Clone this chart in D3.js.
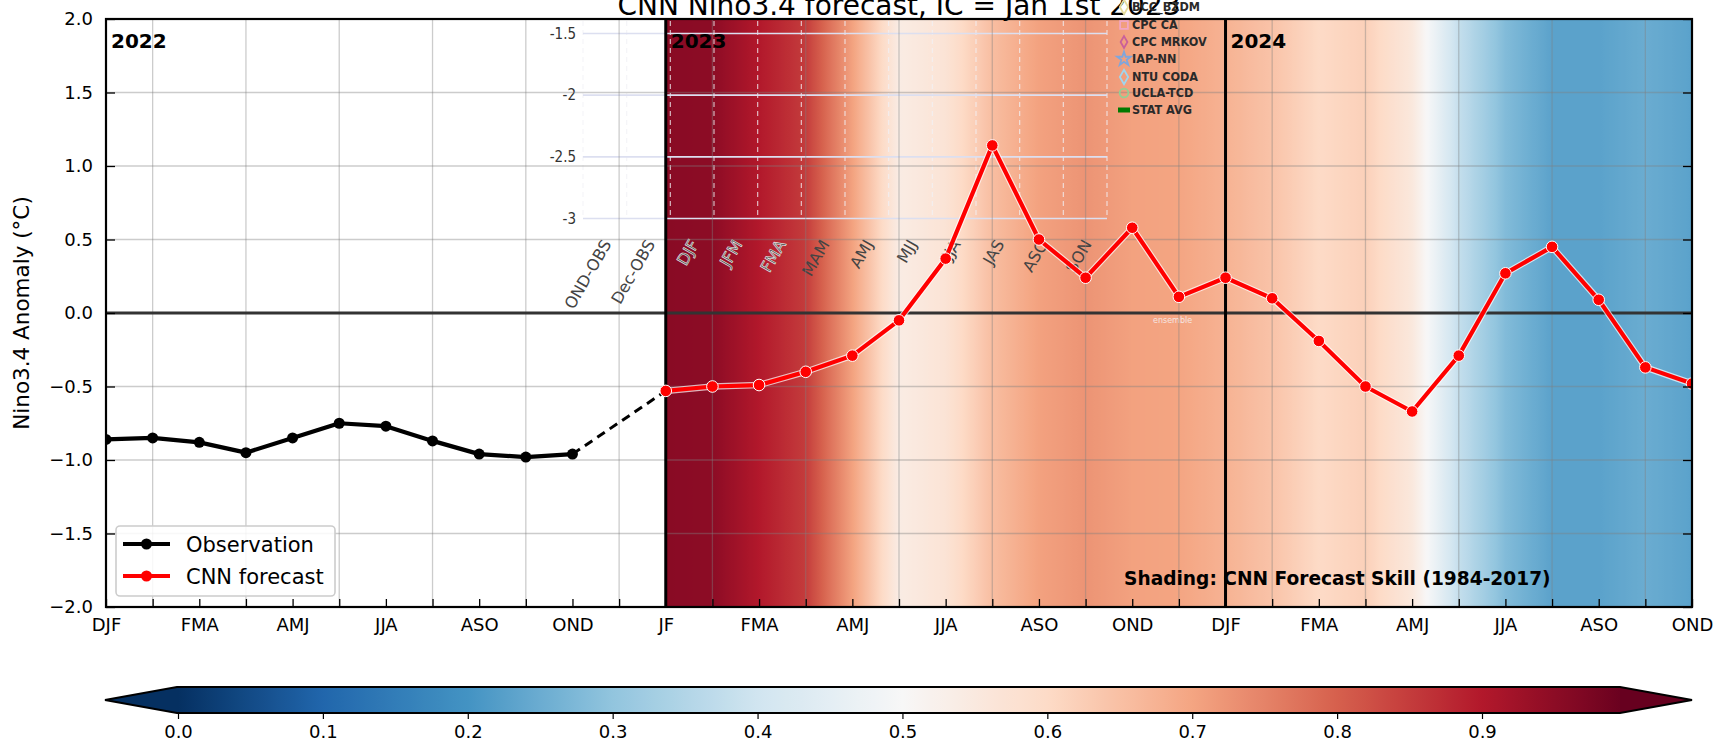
<!DOCTYPE html>
<html><head><meta charset="utf-8">
<script src="https://cdn.jsdelivr.net/npm/d3@7"></script>
<style>
html,body{margin:0;padding:0;background:#fff;}
svg{display:block;}
</style></head>
<body>
<svg id="chart" width="1713" height="750"></svg>
<script>
// ---------------- data ----------------
const title = "CNN Nino3.4 forecast, IC = Jan 1st 2023";
const xTickLabels = ["DJF","FMA","AMJ","JJA","ASO","OND","JF","FMA","AMJ","JJA","ASO","OND","DJF","FMA","AMJ","JJA","ASO","OND"];
const obsMonths = [0,1,2,3,4,5,6,7,8,9,10];
const obsValues = [-0.86,-0.85,-0.88,-0.95,-0.85,-0.75,-0.77,-0.87,-0.96,-0.98,-0.96];
const fcstMonths = [12,13,14,15,16,17,18,19,20,21,22,23,24,25,26,27,28,29,30,31,32,33,34];
const fcstValues = [-0.53,-0.50,-0.49,-0.40,-0.29,-0.05,0.37,1.14,0.50,0.24,0.58,0.11,0.24,0.10,-0.19,-0.50,-0.67,-0.29,0.27,0.45,0.09,-0.37,-0.48];
const skillValues = [0.955,0.95,0.90,0.85,0.705,0.54,0.57,0.655,0.705,0.725,0.705,0.70,0.675,0.645,0.60,0.62,0.555,0.38,0.28,0.23,0.23,0.25,0.23];
const yearLabels = ["2022","2023","2024"];
const yearMonths = [0,12,24];
const yTicks = [-2,-1.5,-1,-0.5,0,0.5,1,1.5,2];
const cbTicks = [0,0.1,0.2,0.3,0.4,0.5,0.6,0.7,0.8,0.9];
const rdbu = ["#67001f","#b2182b","#d6604d","#f4a582","#fddbc7","#f7f7f7","#d1e5f0","#92c5de","#4393c3","#2166ac","#053061"];
const insetXLabels = ["OND-OBS","Dec-OBS","DJF","JFM","FMA","MAM","AMJ","MJJ","JJA","JAS","ASO","SON"];
const insetYTicks = [-1.5,-2,-2.5,-3];
const insetModels = ["BCC_BZDM","CPC CA","CPC MRKOV","IAP-NN","NTU CODA","UCLA-TCD","STAT AVG"];
const insetColors = ["#e6dc9c","#f2a6c4","#c9609a","#7fa6dc","#9fd6ef","#94cf94","#007a00"];

// ---------------- layout ----------------
const svg = d3.select("#chart");
const W = 1713, H = 750;
const L = 106, R = 1692, T = 19, B = 607;
const FONT = "DejaVu Sans, sans-serif";
const NARROW = "'Liberation Sans Narrow', 'DejaVu Sans Condensed', 'Liberation Sans', sans-serif";

const x = d3.scaleLinear().domain([0,34]).range([L,R]);
const y = d3.scaleLinear().domain([-2,2]).range([B,T]);
const cmap = d3.scaleLinear().domain(d3.range(11).map(i => i/10)).range(rdbu.slice().reverse()).interpolate(d3.interpolateRgb).clamp(true);
const skillAt = d3.scaleLinear().domain(fcstMonths).range(skillValues);

svg.append("rect").attr("width",W).attr("height",H).attr("fill","#fff");

const defs = svg.append("defs");
defs.append("clipPath").attr("id","plotclip").append("rect")
  .attr("x",L).attr("y",T).attr("width",R-L).attr("height",B-T);

// shading gradient
const g0 = fcstMonths[0], g1 = fcstMonths[fcstMonths.length-1];
const shadeGrad = defs.append("linearGradient").attr("id","shade")
  .attr("gradientUnits","userSpaceOnUse")
  .attr("x1",x(g0)).attr("x2",x(g1)).attr("y1",0).attr("y2",0);
shadeGrad.selectAll("stop").data(d3.range(g0, g1 + 0.001, 0.05)).join("stop")
  .attr("offset", t => (t - g0)/(g1 - g0))
  .attr("stop-color", t => cmap(skillAt(Math.min(t, g1))));

const plot = svg.append("g").attr("clip-path","url(#plotclip)");
plot.append("rect").attr("x",x(g0)).attr("y",T).attr("width",x(g1)-x(g0)).attr("height",B-T)
  .attr("fill","url(#shade)");

// ---------------- pasted inset remnants ----------------
const ix = d3.scaleLinear().domain([0,12]).range([583,1107]);
const iy = d3.scaleLinear().domain([-1.5,-3]).range([33.5,218.5]);
const inset = svg.append("g");
inset.selectAll("line.idash").data(d3.range(0,13)).join("line")
  .attr("x1",d=>ix(d)).attr("x2",d=>ix(d)).attr("y1",T+2).attr("y2",iy(-3))
  .attr("stroke","#f2f2f6").attr("stroke-opacity",0.75).attr("stroke-width",1.2).attr("stroke-dasharray","5,4");
inset.selectAll("line.ih").data(insetYTicks).join("line")
  .attr("x1",ix(0)).attr("x2",ix(12)).attr("y1",d=>iy(d)).attr("y2",d=>iy(d))
  .attr("stroke","#dcdff0").attr("stroke-width",1.6);
inset.selectAll("text.iyl").data(insetYTicks).join("text")
  .attr("x",576).attr("y",d=>iy(d)).attr("dy","0.35em").attr("text-anchor","end")
  .attr("font-family",NARROW).attr("font-size",15).attr("fill","#333")
  .text(d => String(d));
inset.selectAll("text.ixl").data(insetXLabels).join("text")
  .attr("transform",(d,i)=>`translate(${ix(i+0.5)+7},${244}) rotate(-60)`)
  .attr("text-anchor","end")
  .attr("font-family",FONT).attr("font-size",16).attr("fill","#444")
  .attr("stroke",(d,i)=> i>=2 && i<=4 ? "#eee" : "none").attr("stroke-width",0.6)
  .text(d=>d);
inset.append("text").attr("x",1153).attr("y",323).attr("font-family",FONT).attr("font-size",8)
  .attr("fill","#f6e6e2").text("ensemble");

// ---------------- grid ----------------
const grid = svg.append("g");
grid.selectAll("line.v").data(d3.range(1,34,2)).join("line")
  .attr("x1",d=>x(d)).attr("x2",d=>x(d)).attr("y1",T).attr("y2",B)
  .attr("stroke","#808080").attr("stroke-opacity",0.4).attr("stroke-width",1.3);
grid.selectAll("line.h").data(yTicks.filter(v => v !== 0 && v > -2 && v < 2)).join("line")
  .attr("x1",L).attr("x2",R).attr("y1",d=>y(d)).attr("y2",d=>y(d))
  .attr("stroke","#808080").attr("stroke-opacity",0.4).attr("stroke-width",1.3);

// zero line and year separators
svg.append("line").attr("x1",L).attr("x2",R).attr("y1",y(0)).attr("y2",y(0))
  .attr("stroke","#333").attr("stroke-width",3);
svg.selectAll("line.yr").data(yearMonths.slice(1)).join("line")
  .attr("x1",d=>x(d)).attr("x2",d=>x(d)).attr("y1",T).attr("y2",B)
  .attr("stroke","#000").attr("stroke-width",3);
svg.selectAll("text.yr").data(yearLabels).join("text")
  .attr("x",(d,i)=>x(yearMonths[i])+5).attr("y",48)
  .attr("font-family",FONT).attr("font-weight","bold").attr("font-size",20).attr("fill","#000")
  .text(d=>d);

// ---------------- series ----------------
const line = d3.line().x(d=>x(d[0])).y(d=>y(d[1]));
const obs = obsMonths.map((m,i)=>[m,obsValues[i]]);
const fc = fcstMonths.map((m,i)=>[m,fcstValues[i]]);
const lines = svg.append("g").attr("clip-path","url(#plotclip)");
lines.append("path").attr("d",line([obs[obs.length-1], fc[0]]))
  .attr("fill","none").attr("stroke","#000").attr("stroke-width",3).attr("stroke-dasharray","9,6");
lines.append("path").attr("d",line(obs)).attr("fill","none").attr("stroke","#000").attr("stroke-width",4.2).attr("stroke-linejoin","round");
lines.selectAll("circle.o").data(obs).join("circle")
  .attr("cx",d=>x(d[0])).attr("cy",d=>y(d[1])).attr("r",5.5).attr("fill","#000");
lines.append("path").attr("d",line(fc)).attr("fill","none").attr("stroke","#fff").attr("stroke-opacity",0.7).attr("stroke-width",6.5).attr("stroke-linejoin","round");
lines.append("path").attr("d",line(fc)).attr("fill","none").attr("stroke","#ff0000").attr("stroke-width",4.2).attr("stroke-linejoin","round");
lines.selectAll("circle.f").data(fc).join("circle")
  .attr("cx",d=>x(d[0])).attr("cy",d=>y(d[1])).attr("r",5.8).attr("fill","#ff0000")
  .attr("stroke","#fff").attr("stroke-width",1);

// ---------------- legend ----------------
const leg = svg.append("g");
leg.append("rect").attr("x",116).attr("y",526).attr("width",219).attr("height",70).attr("rx",4)
  .attr("fill","#fff").attr("fill-opacity",0.85).attr("stroke","#cccccc").attr("stroke-width",1.6);
const legItems = [{name:"Observation", color:"#000"},{name:"CNN forecast", color:"#ff0000"}];
legItems.forEach((it,i)=>{
  const cy = 544 + i*32;
  leg.append("line").attr("x1",123).attr("x2",170).attr("y1",cy).attr("y2",cy).attr("stroke",it.color).attr("stroke-width",4.2);
  leg.append("circle").attr("cx",146.5).attr("cy",cy).attr("r",5.5).attr("fill",it.color);
  leg.append("text").attr("x",186).attr("y",cy).attr("dy","0.36em").attr("font-family",FONT).attr("font-size",21).attr("fill","#000").text(it.name);
});

svg.append("text").attr("x",1124).attr("y",585).attr("font-family",FONT).attr("font-weight","bold")
  .attr("font-size",18.6).attr("fill","#000").text("Shading: CNN Forecast Skill (1984-2017)");

// ---------------- axes ----------------
const xAxis = d3.axisBottom(x).tickValues(d3.range(0,35)).tickSize(-8).tickPadding(11)
  .tickFormat(d => d % 2 === 0 ? xTickLabels[d/2] : "");
const gx = svg.append("g").attr("transform",`translate(0,${B})`).call(xAxis);
const yAxis = d3.axisLeft(y).tickValues(yTicks).tickSize(-9).tickPadding(13).tickFormat(d3.format(".1f"));
const gy = svg.append("g").attr("transform",`translate(${L},0)`).call(yAxis);
const gyr = svg.append("g").attr("transform",`translate(${R},0)`).call(d3.axisRight(y).tickValues(yTicks).tickSize(-9).tickFormat(""));
[gx,gy,gyr].forEach(g=>{
  g.select(".domain").remove();
  g.selectAll(".tick line").attr("stroke","#000").attr("stroke-width",1.3);
  g.selectAll("text").attr("font-family",FONT).attr("font-size",18).attr("fill","#000");
});
svg.append("rect").attr("x",L).attr("y",T).attr("width",R-L).attr("height",B-T)
  .attr("fill","none").attr("stroke","#000").attr("stroke-width",2.2);

svg.append("text").attr("transform",`translate(21,${(T+B)/2}) rotate(-90)`)
  .attr("text-anchor","middle").attr("dy","0.35em")
  .attr("font-family",FONT).attr("font-size",21.5).attr("fill","#000").text("Nino3.4 Anomaly (°C)");

// title
svg.append("text").attr("x",(L+R)/2).attr("y",15).attr("text-anchor","middle")
  .attr("font-family",FONT).attr("font-size",28).attr("fill","#000").text(title);

// inset legend (pasted remnant, overlaps title)
const il = svg.append("g");
const shapes = [d3.symbolDiamond, d3.symbolSquare, d3.symbolDiamond, d3.symbolStar, d3.symbolDiamond, d3.symbolCircle, null];
const ilY = [7,25,42,59,77,93,110];
insetModels.forEach((m,i)=>{
  if (shapes[i]) {
    il.append("path").attr("transform",`translate(1124,${ilY[i]})`)
      .attr("d",d3.symbol().type(shapes[i]).size(i===2?40:60)())
      .attr("fill","none").attr("stroke",insetColors[i]).attr("stroke-width",1.8);
  } else {
    il.append("rect").attr("x",1118).attr("y",ilY[i]-2.5).attr("width",12).attr("height",5).attr("fill",insetColors[i]);
  }
  il.append("text").attr("x",1132).attr("y",ilY[i]).attr("dy","0.35em")
    .attr("font-family",NARROW).attr("font-weight","bold").attr("font-size",12.5).attr("fill","#2a2a2a").text(m);
});

// ---------------- colorbar ----------------
const cbx = d3.scaleLinear().domain([0,0.9]).range([178,1482]);
const cbTop = 687, cbBot = 713, cbL = 177, cbR = 1620;
const cbGrad = defs.append("linearGradient").attr("id","cbgrad").attr("gradientUnits","userSpaceOnUse")
  .attr("x1",cbx(0)).attr("x2",cbx(1)).attr("y1",0).attr("y2",0);
cbGrad.selectAll("stop").data(d3.range(0,1.0001,0.01)).join("stop")
  .attr("offset",d=>d).attr("stop-color",d=>cmap(d));
svg.append("rect").attr("x",cbL).attr("y",cbTop).attr("width",cbR-cbL).attr("height",cbBot-cbTop).attr("fill","url(#cbgrad)");
svg.append("path").attr("d",`M${cbL},${cbTop} L105,${(cbTop+cbBot)/2} L${cbL},${cbBot} Z`).attr("fill",cmap(0));
svg.append("path").attr("d",`M${cbR},${cbTop} L1692,${(cbTop+cbBot)/2} L${cbR},${cbBot} Z`).attr("fill",cmap(1));
svg.append("path").attr("d",`M${cbL},${cbTop} L105,${(cbTop+cbBot)/2} L${cbL},${cbBot} L${cbR},${cbBot} L1692,${(cbTop+cbBot)/2} L${cbR},${cbTop} Z`)
  .attr("fill","none").attr("stroke","#000").attr("stroke-width",2);
const gcb = svg.append("g").attr("transform",`translate(0,${cbBot})`)
  .call(d3.axisBottom(cbx).tickValues(cbTicks).tickSize(6).tickPadding(6).tickFormat(d3.format(".1f")));
gcb.select(".domain").remove();
gcb.selectAll(".tick line").attr("stroke","#000").attr("stroke-width",1.2);
gcb.selectAll("text").attr("font-family",FONT).attr("font-size",18).attr("fill","#000");
</script>
</body></html>
